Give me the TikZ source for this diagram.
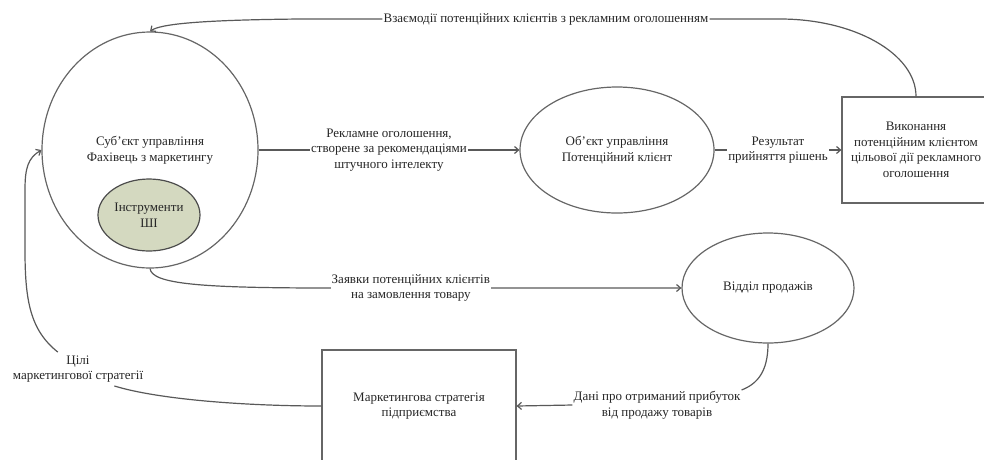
\documentclass[tikz,border=0pt]{standalone}
\usepackage{fontspec}
\setmainfont{Liberation Serif}
\usepackage{xcolor}
\usepackage{tikz}
\usetikzlibrary{positioning, arrows.meta, shapes.geometric}
\definecolor{aigreen}{RGB}{212,217,192}

\begin{document}
\begin{tikzpicture}[x=1pt, y=-1pt,
    font=\fontsize{13}{15.5}\selectfont,
    every node/.style={text=black!85, align=center},
    conn/.style={line width=1.2pt, draw=black!65},
    arr/.style={conn, -{Straight Barb[length=4pt, width=7pt]}},
    oval/.style={ellipse, draw=black!60, line width=1.2pt, inner sep=0pt},
    box/.style={rectangle, draw=black!60, line width=1.2pt, inner sep=0pt},
    lbl/.style={fill=white, inner sep=1pt}]
    \useasboundingbox (0,0) rectangle (984,459);

    % Subject of management with the AI tools inside
    \node[oval, minimum width=216pt, minimum height=236pt] (subj) at (150,150) {Суб’єкт управління\\Фахівець з маркетингу};
    \node[oval, fill=aigreen, draw=black!70, minimum width=102pt, minimum height=72pt] (tools) at (149,215) {Інструменти\\ШІ};

    % Object, target action, sales, strategy
    \node[oval, minimum width=194pt, minimum height=126pt] (obj) at (617,150) {Об’єкт управління\\Потенційний клієнт};
    \node[box, minimum width=164pt, minimum height=106pt] (exec) at (924,150) {};
    \node (exectext) at (916,150) {Виконання\\потенційним клієнтом\\цільової дії рекламного\\оголошення};
    \node[oval, minimum width=172pt, minimum height=110pt] (sales) at (768,288) {Відділ продажів};
    \node[box, minimum width=194pt, minimum height=112pt] (strat) at (419,406) {Маркетингова стратегія\\підприємства};

    % Free labels on the curved connectors
    \node[lbl] (inter) at (546,19) {Взаємодії потенційних клієнтів з рекламним оголошенням};
    \node[lbl] (dani) at (657,405) {Дані про отриманий прибуток\\від продажу товарів};
    \node (goals) at (78,369) {Цілі\\маркетингової стратегії};

    % Feedback from the client back to the subject
    \draw[conn] (exectext |- exec.north) .. controls (916,54) and (855,19) .. (780,19) -- (inter.east);
    \draw[arr] (inter.west) -- (300,19) .. controls (200,20) and (160,24) .. (subj.north);

    % Straight flows
    \draw[arr] (subj) -- node[lbl] (ad) {Рекламне оголошення,\\створене за рекомендаціями\\штучного інтелекту} (obj);
    \draw[arr] (obj) -- node[lbl] (res) {Результат\\прийняття рішень} (exec);
    \draw[arr] (subj.south) .. controls (152,284) and (200,288) .. (330,288)
        -- node[lbl, pos=0.23] (orders) {Заявки потенційних клієнтів\\на замовлення товару} (sales.west);

    % Profit data and strategy goals
    \draw[conn] (sales.south) .. controls (768,372) and (757,384) .. (dani.north east);
    \draw[arr] (dani.west) -- (strat.east);
    \draw[conn] (strat.west) .. controls (250,406) and (160,400) .. (goals.-25);
    \draw[arr] (goals.140) .. controls (30,330) and (25,300) .. (25,250) -- (25,190)
        .. controls (25,168) and (28,158) .. (subj.west);
\end{tikzpicture}
\end{document}
